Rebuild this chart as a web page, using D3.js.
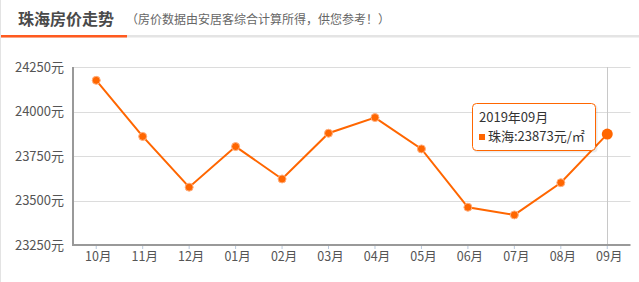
<!DOCTYPE html>
<html><head><meta charset="utf-8">
<script src="https://cdn.jsdelivr.net/npm/d3@7"></script>
<style>
body{margin:0;background:#fff;}
svg{display:block;font-family:"Noto Sans CJK SC","Noto Sans",sans-serif;}
</style></head>
<body>
<svg id="c" width="639" height="282"></svg>
<script>
const categories = ["10月","11月","12月","01月","02月","03月","04月","05月","06月","07月","08月","09月"];
const prices = [24175,23860,23575,23803,23621,23878,23966,23790,23462,23419,23600,23873];
const yTicks = [23250,23500,23750,24000,24250];
const title = "珠海房价走势";
const subtitle = "（房价数据由安居客综合计算所得，供您参考！）";
const tooltipDate = "2019年09月";
const seriesName = "珠海";

const svg = d3.select("#c");
const W = 639, H = 282;
const m = {left:73, right:639-630.5, top:67, bottom:282-245};

// frame
svg.append("line").attr("x1",0.5).attr("x2",0.5).attr("y1",0).attr("y2",H).attr("stroke","#e3e3e3").attr("stroke-width",1);
svg.append("rect").attr("x",1).attr("y",35).attr("width",W).attr("height",2.5).attr("fill","#e4e4e4");
svg.append("rect").attr("x",1).attr("y",35).attr("width",126).attr("height",2.5).attr("fill","#ff5a1f");
svg.append("text").attr("x",18).attr("y",25).attr("font-size",16).attr("font-weight","bold").attr("fill","#4a4a4a").text(title);
svg.append("text").attr("x",126).attr("y",24).attr("font-size",12).attr("fill","#666").text(subtitle);

const x = d3.scaleBand().domain(categories).range([m.left, W-m.right]);
const y = d3.scaleLinear().domain([23250,24250]).range([H-m.bottom, m.top]);

// grid
const g = svg.append("g");
g.selectAll("line.grid").data(yTicks.slice(1)).join("line")
  .attr("x1",m.left).attr("x2",W-m.right)
  .attr("y1",d=>Math.round(y(d))+0.5).attr("y2",d=>Math.round(y(d))+0.5)
  .attr("stroke","#dcdcdc").attr("stroke-width",1);

// y labels
const yAxis = d3.axisLeft(y).tickValues(yTicks).tickSize(0).tickPadding(9).tickFormat(d=>d+"元");
const ya = svg.append("g").attr("transform",`translate(${m.left},0)`).call(yAxis);
ya.select(".domain").remove();
ya.selectAll("text").attr("font-size",13).attr("fill","#555").attr("font-family",'"Noto Sans CJK SC",sans-serif');

// x axis
const xAxis = d3.axisBottom(x).tickSize(4).tickPadding(3);
const xa = svg.append("g").attr("transform",`translate(0,${H-m.bottom})`).call(xAxis);
xa.select(".domain").remove();
xa.selectAll(".tick line").attr("stroke","#b8c8dc").attr("y1",1);
xa.selectAll("text").attr("font-size",12.5).attr("fill","#555").attr("dx",2).attr("font-family",'"Noto Sans CJK SC",sans-serif');

// crosshair
const last = categories.length-1;
const cx = x(categories[last]) + x.bandwidth()/2;
svg.append("line").attr("x1",Math.round(cx)+0.5).attr("x2",Math.round(cx)+0.5).attr("y1",m.top).attr("y2",H-m.bottom).attr("stroke","#c8c8c8");

// axis lines
svg.append("line").attr("x1",m.left).attr("x2",m.left).attr("y1",m.top).attr("y2",H-m.bottom+1).attr("stroke","#999").attr("stroke-width",2);
svg.append("line").attr("x1",m.left).attr("x2",W-m.right).attr("y1",H-m.bottom).attr("y2",H-m.bottom).attr("stroke","#999").attr("stroke-width",2);

// line
const data = categories.map((c,i)=>({c,v:prices[i]}));
const px = d=>x(d.c)+x.bandwidth()/2;
svg.append("path").datum(data).attr("fill","none").attr("stroke","#ff6600").attr("stroke-width",2)
  .attr("d",d3.line().x(px).y(d=>y(d.v)));
svg.selectAll("circle.pt").data(data).join("circle")
  .attr("cx",px).attr("cy",d=>y(d.v))
  .attr("r",(d,i)=>i===last?5.5:4)
  .attr("fill","#ff6600").attr("stroke",(d,i)=>i===last?"none":"#ffb080").attr("stroke-width",1);

// tooltip
const tt = svg.append("g").attr("transform","translate(472,103)");
tt.append("rect").attr("x",1.5).attr("y",1.5).attr("width",124).attr("height",48).attr("rx",4).attr("fill","rgba(0,0,0,0.08)");
tt.append("rect").attr("x",0.5).attr("y",0.5).attr("width",123).attr("height",47).attr("rx",4).attr("fill","#fff").attr("stroke","#ff6600");
tt.append("text").attr("x",7).attr("y",19).attr("font-size",13).attr("fill","#333").text(tooltipDate);
tt.append("rect").attr("x",7).attr("y",31).attr("width",6).attr("height",6).attr("fill","#ff6600");
tt.append("text").attr("x",16).attr("y",38).attr("font-size",13).attr("fill","#333")
  .text(`${seriesName}:${prices[last]}元/㎡`);
</script>
</body></html>
